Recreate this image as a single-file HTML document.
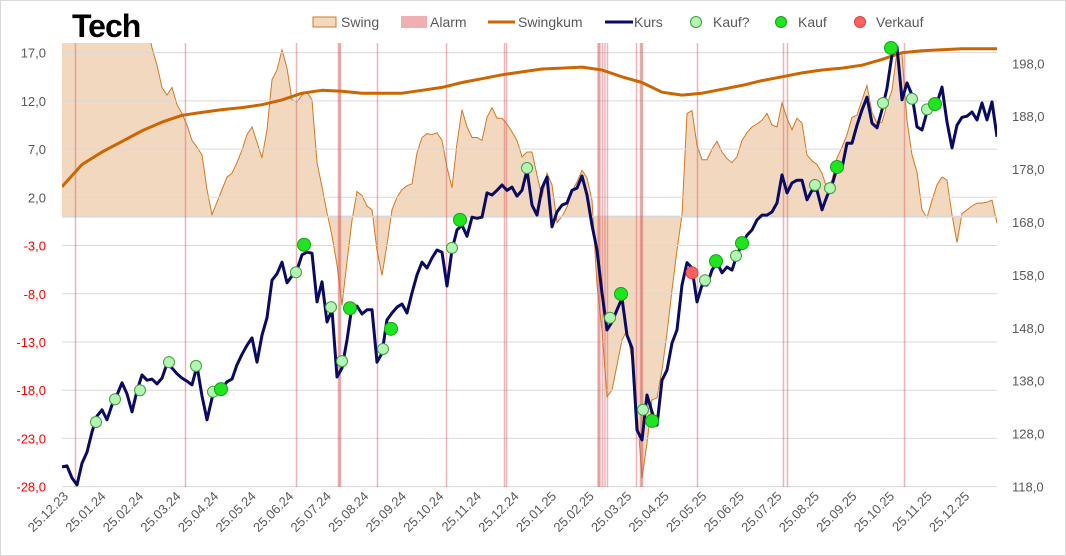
<!DOCTYPE html>
<html><head><meta charset="utf-8"><style>
html,body{margin:0;padding:0;background:#fff;}
svg{display:block;font-family:"Liberation Sans",sans-serif;}
</style></head><body>
<svg id="chart" width="1066" height="556" viewBox="0 0 1066 556" xmlns="http://www.w3.org/2000/svg">
<rect x="0.5" y="0.5" width="1065" height="555" fill="#fff" stroke="#d9d9d9"/>
<text x="72" y="37" font-size="32" font-weight="bold" letter-spacing="-1" fill="#000">Tech</text>
<g font-size="14" fill="#595959">
 <g><rect x="313" y="17" width="23" height="10" fill="#f3d8c0" stroke="#d07a20"/><text x="341" y="27">Swing</text></g>
 <g><rect x="401" y="16" width="26" height="12" fill="#eeb0b0"/><text x="430" y="27">Alarm</text></g>
 <g><line x1="488" y1="22" x2="515" y2="22" stroke="#cc6600" stroke-width="3"/><text x="518" y="27">Swingkum</text></g>
 <g><line x1="605" y1="22" x2="633" y2="22" stroke="#0a0a66" stroke-width="3"/><text x="634" y="27">Kurs</text></g>
 <g><circle cx="696" cy="22" r="5.5" fill="#b3f5b3" stroke="#3aa03a"/><text x="713" y="27">Kauf?</text></g>
 <g><circle cx="781" cy="22" r="5.5" fill="#1ee61e" stroke="#18a018"/><text x="798" y="27">Kauf</text></g>
 <g><circle cx="860" cy="22" r="5.5" fill="#ff6060" stroke="#e04040"/><text x="876" y="27">Verkauf</text></g>
</g>
<defs><clipPath id="plotclip"><rect x="62" y="43" width="935" height="444"/></clipPath></defs>
<g id="swingLayer" clip-path="url(#plotclip)"></g>
<g id="gridLayer"></g>
<g id="alarmLayer"></g>
<g id="lineLayer" clip-path="url(#plotclip)"></g>
<g id="markerLayer"></g>
<g id="axisLayer"></g>
</svg>
<script>
const swing = [20,20,20,20,20,20,20,20,20,20,20,20,20,20,20,20,20,20,17.5,15.7,13.4,12.6,13.4,11.6,10.7,9.5,7.9,7.2,6.4,2.8,0.2,1.5,2.8,4.1,4.5,5.6,6.9,8.5,9.3,7.7,6.1,9.0,14.2,15.2,17.3,15.4,12.1,11.9,12.6,12.9,12.1,5.6,3.1,0.4,-2.0,-5.0,-9.2,-4.7,-0.4,2.6,2.2,1.1,0.7,-3.5,-6.1,-2.9,0.7,2.0,2.8,3.2,3.4,6.6,8.2,8.6,8.5,8.7,7.9,5.1,3.0,7.6,11.1,9.3,8.2,8.2,7.9,10.3,11.3,10.2,10.2,9.6,8.8,7.9,6.2,6.7,6.7,4.3,2.0,4.5,3.3,-0.6,0,1.0,2.6,3.6,4.8,4.0,1.7,-7.1,-11.8,-18.7,-18.0,-15.4,-12.8,-11.8,-14.9,-20.1,-27.1,-23.5,-19.0,-18.8,-15.9,-12.1,-7.6,-3.5,0.2,10.7,11.0,7.4,5.9,5.9,7.0,7.8,6.7,6.0,5.6,6.2,7.9,8.7,9.3,9.6,10.0,10.7,9.5,9.3,11.8,10.2,9.0,10.2,9.7,6.4,5.8,5.4,4.5,2.9,3.8,6.1,7.2,8.5,10.3,10.5,12.1,13.6,10.8,9.7,9.8,11.6,13.1,17.1,16.8,10.0,6.4,4.6,0.7,-0.1,1.7,3.3,4.1,3.8,0.2,-2.7,0.3,0.7,1.1,1.4,1.4,1.5,1.7,-0.7];
const kurs = [121.7,121.9,119.6,118.3,122.4,124.5,128.3,131.3,132.5,130.6,133.4,135.3,137.6,135.5,132.1,136.1,139.1,138.1,138.3,137.4,138.5,141.2,140.4,139.3,138.5,137.9,137.2,140.8,135.1,130.6,134.7,136.6,136.6,137.8,138.3,141.0,143.0,144.7,146.1,141.5,146.6,149.9,157.0,158.2,160.4,156.5,157.8,158.9,161.8,162.3,162.1,152.9,156.7,149.1,151.4,138.7,140.4,145.7,152.1,152.1,150.6,151.4,151.4,141.5,143.2,149.5,150.8,151.9,152.5,150.8,154.6,158.0,160.4,159.3,161.2,162.7,162.3,155.9,162.7,166.5,167.4,165.3,168.9,168.7,168.9,173.5,173.1,174.0,175.0,174.0,174.6,172.9,174.0,177.8,171.2,169.3,174.4,176.5,167.1,169.9,171.2,171.6,174.0,174.4,176.7,173.1,167.4,162.7,154.6,147.6,149.1,151.4,153.6,146.6,144.2,128.7,126.8,135.3,132.1,129.6,138.1,140.0,145.1,147.6,156.1,160.3,159.3,152.9,156.1,156.1,158.9,160.4,158.4,159.5,158.9,161.8,163.8,165.5,166.5,168.4,169.3,169.3,169.9,171.6,176.9,173.5,175.4,175.9,175.9,172.2,174.0,174.0,170.3,172.9,175.0,178.2,178.2,182.9,182.9,186.3,189.2,191.6,186.7,185.8,189.2,193.3,199.6,201.1,191.1,194.3,192.0,186.0,185.4,188.8,189.7,190.5,193.5,186.9,182.0,186.3,187.8,188.0,188.8,187.3,190.5,187.3,190.7,184.1];
const swingkum = [3.1,5.4,6.7,7.8,8.9,9.8,10.5,10.8,11.1,11.3,11.6,12.1,12.8,13.1,13.0,12.8,12.8,12.8,13.1,13.4,13.9,14.3,14.7,15.0,15.3,15.4,15.5,15.2,14.5,13.9,12.9,12.6,12.8,13.2,13.6,14.1,14.5,14.9,15.2,15.4,15.7,16.3,17.0,17.2,17.3,17.4,17.4,17.4];
const alarmIdx = [2.7,24.7,46.9,55.3,55.5,55.7,63.1,76.9,88.5,88.9,107.2,107.4,107.6,108.1,108.6,109.1,114.9,115.7,115.9,116.1,127.1,144.3,145.1,168.5];
const kaufQIdx = [6.8,10.6,15.6,21.4,26.8,30.2,46.8,53.8,56,64.2,78,93,109.6,116.2,128.6,134.8,150.6,153.6,164.2,170,173];
const kaufQVal = [130.2,134.5,136.2,141.5,140.8,135.9,158.5,151.9,141.7,144.0,163.1,178.2,149.9,132.5,157.0,161.6,175.0,174.4,190.5,191.3,189.3];
const kaufIdx = [31.8,48.4,57.6,65.8,79.6,111.8,118,130.8,136,155,165.8,174.6];
const kaufVal = [136.4,163.7,151.7,147.8,168.4,154.4,130.4,160.6,164.0,178.4,200.9,190.3];
const verkaufIdx = [126];
const verkaufVal = [158.4];
const leftTicks = [17,12,7,2,-3,-8,-13,-18,-23,-28];
const rightTicks = [198,188,178,168,158,148,138,128,118];
const dateLabels = ["25.12.23","25.01.24","25.02.24","25.03.24","25.04.24","25.05.24","25.06.24","25.07.24","25.08.24","25.09.24","25.10.24","25.11.24","25.12.24","25.01.25","25.02.25","25.03.25","25.04.25","25.05.25","25.06.25","25.07.25","25.08.25","25.09.25","25.10.25","25.11.25","25.12.25"];

const NS="http://www.w3.org/2000/svg";
const X0=62, XSTEP=5;
function xOf(i){return X0+i*XSTEP;}
function yL(v){return 216.6-v*9.644;}
function yR(p){return 486.5-(p-118)*5.29;}
function mk(tag,attrs,parent){const e=document.createElementNS(NS,tag);for(const k in attrs)e.setAttribute(k,attrs[k]);parent.appendChild(e);return e;}

// swing area
const sl=document.getElementById('swingLayer');
let d='M'+xOf(0)+' '+yL(0);
swing.forEach((v,i)=>{d+=' L'+xOf(i).toFixed(1)+' '+yL(v).toFixed(1);});
d+=' L'+xOf(swing.length-1)+' '+yL(0)+' Z';
const sa=mk('path',{d:d,fill:'#f3d8c0',stroke:'none'},sl);


let d2='';
swing.forEach((v,i)=>{d2+=(i?' L':'M')+xOf(i).toFixed(1)+' '+yL(v).toFixed(1);});
const sline=mk('path',{d:d2,fill:'none',stroke:'#d07a20','stroke-width':1},sl);



// grid
const gl=document.getElementById('gridLayer');
leftTicks.forEach(t=>{
  const g=mk('line',{x1:62,x2:997,y1:yL(t),y2:yL(t),stroke:'#d9d9d9','stroke-width':1},gl);
  
  
});
const zl=mk('line',{x1:62,x2:997,y1:yL(0),y2:yL(0),stroke:'#d9d9d9','stroke-width':2},gl);



// alarms
const al=document.getElementById('alarmLayer');
alarmIdx.forEach(a=>{
  const l=mk('line',{x1:xOf(a),x2:xOf(a),y1:43,y2:487,stroke:'rgba(215,90,90,0.45)','stroke-width':1.5},al);
  
  
});

// swingkum & kurs
const ll=document.getElementById('lineLayer');
let dk='';
swingkum.forEach((v,k)=>{const i=Math.min(k*4,kurs.length-1);dk+=(k?' L':'M')+xOf(i).toFixed(1)+' '+yL(v).toFixed(1);});
const kl=mk('path',{d:dk,fill:'none',stroke:'#cc6600','stroke-width':3,'stroke-linejoin':'round'},ll);


let dp='';
kurs.forEach((p,i)=>{dp+=(i?' L':'M')+xOf(i).toFixed(1)+' '+yR(p).toFixed(1);});
const kp=mk('path',{d:dp,fill:'none',stroke:'#0a0a66','stroke-width':3,'stroke-linejoin':'round'},ll);



// markers
const ml=document.getElementById('markerLayer');
kaufQIdx.forEach((ix,j)=>{
  const c=mk('circle',{cx:xOf(ix),cy:yR(kaufQVal[j]),r:5.5,fill:'#b3f5b3',stroke:'#3aa03a','stroke-width':1},ml);
  
  
});
kaufIdx.forEach((ix,j)=>{
  const c=mk('circle',{cx:xOf(ix),cy:yR(kaufVal[j]),r:6.5,fill:'#1ee61e',stroke:'#18a018','stroke-width':1},ml);
  
  
});
verkaufIdx.forEach((ix,j)=>{
  const c=mk('circle',{cx:xOf(ix),cy:yR(verkaufVal[j]),r:6,fill:'#ff6060',stroke:'#e04040','stroke-width':1},ml);
  
  
});

// axes
const ax=document.getElementById('axisLayer');
leftTicks.forEach(t=>{
  const tx=mk('text',{x:46,y:yL(t)+5,'text-anchor':'end','font-size':13,fill:t<0?'#ff0000':'#595959'},ax);
  tx.textContent=t.toFixed(1).replace('.',',');
  
  
});
rightTicks.forEach(t=>{
  const tx=mk('text',{x:1012,y:yR(t)+5,'font-size':13,fill:'#595959'},ax);
  tx.textContent=t.toFixed(1).replace('.',',');
  
  
});
dateLabels.forEach((s,k)=>{
  const x=69+k*37.55, y=497;
  const tx=mk('text',{x:x,y:y,'text-anchor':'end','font-size':13,fill:'#595959',transform:'rotate(-45 '+x+' '+y+')'},ax);
  tx.textContent=s;
  
  
});
</script>
</body></html>
